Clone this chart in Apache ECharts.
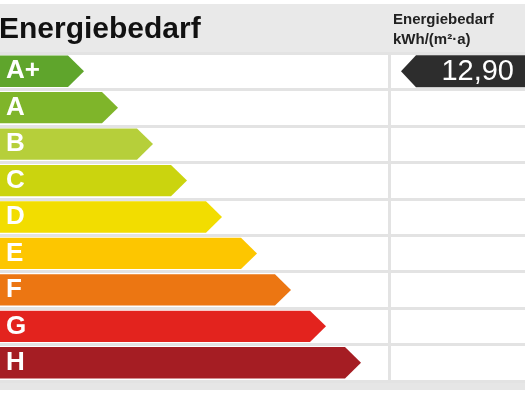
<!DOCTYPE html>
<html><head><meta charset="utf-8">
<script src="https://cdn.jsdelivr.net/npm/echarts@6/dist/echarts.min.js"></script>
<style>html,body{margin:0;padding:0;background:#fff}#c{width:525px;height:394px}</style>
</head><body><div id="c"></div>
<script>
const classes = ['A+','A','B','C','D','E','F','G','H'];
const arrowTips = [84,118,153,187,222,257,291,326,361];
const classColors = ['#5fa52c','#7fb52a','#b6cf3a','#cbd40e','#f2dd00','#fdc600','#ec7612','#e3231e','#a51d23'];
const titleText = 'Energiebedarf';
const unitLines = ['Energiebedarf','kWh/(m²·a)'];
const pointerClass = 'A+';
const pointerValue = '12,90';

const chart = echarts.init(document.getElementById('c'), null, {renderer:'canvas'});
const FONT = '"Liberation Sans", Arial, sans-serif';
chart.setOption({
  animation:false,
  backgroundColor:'#fff',
  grid:{left:0,right:0,top:53,bottom:13,containLabel:false},
  xAxis:{type:'value',min:0,max:525,show:false},
  yAxis:{type:'category',data:classes,inverse:true,z:10,
    axisLine:{show:false},axisTick:{show:false},
    splitLine:{show:true,lineStyle:{color:'#e3e3e3',width:3}},
    axisLabel:{inside:true,margin:6,color:'#fff',fontWeight:'bold',fontSize:26,fontFamily:FONT}
  },
  graphic:[
    {type:'rect',shape:{x:0,y:4,width:525,height:48},style:{fill:'#e9e9e9'},z:-10},
    {type:'rect',shape:{x:0,y:380,width:525,height:10},style:{fill:'#e6e6e6'},z:-10},
    {type:'rect',shape:{x:388,y:52,width:3,height:328},style:{fill:'#e3e3e3'},z:-5},
    {type:'text',x:-1,y:30,style:{text:titleText,font:'bold 30px '+FONT,fill:'#111',textVerticalAlign:'middle'}},
    {type:'text',x:393,y:20,style:{text:unitLines[0],font:'bold 15px '+FONT,fill:'#222',textVerticalAlign:'middle'}},
    {type:'text',x:393,y:40,style:{text:unitLines[1],font:'bold 15px '+FONT,fill:'#222',textVerticalAlign:'middle'}}
  ],
  series:[
    {type:'custom',coordinateSystem:'cartesian2d',
     data:classes.map((c,i)=>[arrowTips[i],c]),
     renderItem:function(params,api){
       const tip = api.coord([api.value(0), api.value(1)]);
       const start = api.coord([0, api.value(1)]);
       const h = api.size([0,1])[1]*0.86;
       const yc = tip[1];
       const k = 16;
       return {type:'polygon',shape:{points:[[start[0],yc-h/2],[tip[0]-k,yc-h/2],[tip[0],yc],[tip[0]-k,yc+h/2],[start[0],yc+h/2]]},
         style:{fill:classColors[params.dataIndex]}};
     }},
    {type:'custom',coordinateSystem:'cartesian2d',
     data:[[401,pointerClass,pointerValue]],
     renderItem:function(params,api){
       const p = api.coord([api.value(0), api.value(1)]);
       const h = api.size([0,1])[1]*0.88;
       const yc = p[1];
       const right = params.coordSys.x + params.coordSys.width;
       return {type:'group',children:[
         {type:'polygon',shape:{points:[[p[0],yc],[p[0]+15,yc-h/2],[right,yc-h/2],[right,yc+h/2],[p[0]+15,yc+h/2]]},style:{fill:'#2d2d2d'}},
         {type:'text',style:{x:right-11,y:yc+1,text:pointerValue,font:'29px '+FONT,fill:'#fff',textAlign:'right',textVerticalAlign:'middle'}}
       ]};
     }}
  ]
});
</script></body></html>
